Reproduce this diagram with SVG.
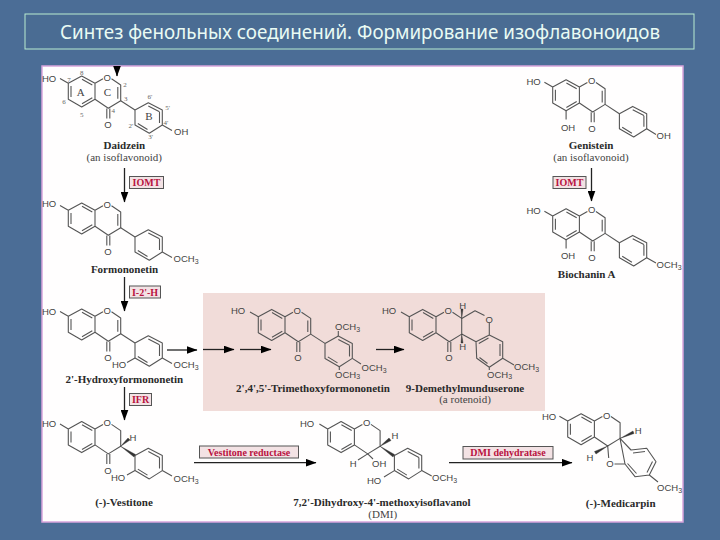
<svg xmlns="http://www.w3.org/2000/svg" width="720" height="540" viewBox="0 0 720 540">
<style>
.b{fill:none;stroke:#555;stroke-width:1.1;stroke-linejoin:round}
.w{fill:#333;stroke:#333;stroke-width:.4}
.a{font:9.5px "Liberation Sans",Arial,sans-serif;fill:#444}
.n{font:bold 11px "Liberation Serif",serif;fill:#2a2a2a;text-anchor:middle}
.r{font:11px "Liberation Serif",serif;fill:#444;text-anchor:middle}
.l{font:7px "Liberation Serif",serif;fill:#666;text-anchor:middle}
.m{text-anchor:middle}
.e{font:bold 10px "Liberation Serif",serif;fill:#b8123f;text-anchor:middle}
.x{fill:#f3e2e4;stroke:#555;stroke-width:1}
.c{fill:none;stroke:#222;stroke-width:1.3;marker-end:url(#ah)}
.s{font-size:7px}
</style>
<defs>
<marker id="ah" markerWidth="11" markerHeight="8" refX="10.5" refY="4" orient="auto" markerUnits="userSpaceOnUse"><path d="M0,0L11,4L0,8Z" fill="#000" stroke="none"/></marker>
<g id="chroman"><path class="b" d="M60,78.5L68.3,83.3L81.7,76L95,83.3V99.3L81.7,107L68.3,99.3V83.3M71,86V97M82,79.2L92.3,85M92.3,97.8L82,103.8M95,83.3L103,78.8M111.5,78.8L120.7,85V100.7L108.3,108.3L95,99.3"/></g>
<g id="chromanone"><use href="#chroman"/><path class="b" d="M106.8,108.5V118.5M109.8,108.5V118.5"/></g>
<g id="chromone"><use href="#chromanone"/><path class="b" d="M117.8,87V98.7"/></g>
<g id="ringB"><path class="b" d="M135,110L148.3,102.7L162.3,110V125L149.3,133.3L135,125ZM148.3,106L159.5,111.8M159.5,112V123M147.5,129.5L137.8,123.5"/></g>
<g id="iso"><use href="#chromone"/><use href="#ringB"/><path class="b" d="M120.7,100.7L135,110"/></g>
</defs>
<rect width="720" height="540" fill="#4b6d96"/>
<g id="title">
<rect x="25" y="14" width="669" height="35" fill="#4a6c93" stroke="#b9ecd0" stroke-width="1"/>
<text x="360" y="39" text-anchor="middle" textLength="600" lengthAdjust="spacingAndGlyphs" style="font:19px 'Noto Sans',sans-serif" fill="#e9fbf4">Синтез фенольных соединений. Формирование изофлавоноидов</text>
</g>
<rect id="panel" x="42" y="66" width="641" height="456" fill="#fffefe" stroke="#d8a4dc" stroke-width="1.5"/>
<rect id="highlight" x="203" y="293" width="342" height="118" fill="#f1dcd9"/>

<g id="daidzein">
<use href="#iso"/>
<path class="b" d="M162.3,125L172,130.5"/>
<text class="a" x="42" y="81.5">HO</text><text class="a m" x="107.3" y="80.5">O</text><text class="a m" x="108" y="127.5">O</text><text class="a" x="174" y="135">OH</text>
<text class="l" x="81.7" y="75">8</text><text class="l" x="69" y="82">7</text><text class="l" x="64" y="104">6</text><text class="l" x="81.7" y="117">5</text><text class="l" x="125" y="87">2</text><text class="l" x="125.7" y="101">3</text><text class="l" x="113.3" y="113">4</text>
<text class="l" x="150" y="99">6'</text><text class="l" x="167.7" y="110">5'</text><text class="l" x="166" y="125">4'</text><text class="l" x="150.7" y="139">3'</text><text class="l" x="131" y="128">2'</text>
<text class="r" x="80.7" y="96">A</text><text class="r" x="107.3" y="96">C</text><text class="r" x="149" y="120">B</text>
<text class="n" x="124.3" y="149">Daidzein</text><text class="r" x="124.3" y="161">(an isoflavonoid)</text>
</g>
<g id="formononetin">
<use href="#iso" y="127"/><path class="b" d="M162.3,252L172,257.5"/>
<text class="a" x="42" y="207">HO</text><text class="a m" x="107.3" y="207.5">O</text><text class="a m" x="108" y="254.5">O</text><text class="a" x="173.5" y="262">OCH<tspan class="s" dy="2">3</tspan></text>
<text class="n" x="124.5" y="272.5">Formononetin</text>
</g>
<g id="hydroxyformononetin">
<use href="#iso" y="233"/><path class="b" d="M162.3,358L172,363.5M135,358L127,362.5"/>
<text class="a" x="42" y="315">HO</text><text class="a m" x="107.3" y="313.5">O</text><text class="a m" x="108" y="360.5">O</text><text class="a" x="112" y="368">HO</text><text class="a" x="173.5" y="368">OCH<tspan class="s" dy="2">3</tspan></text>
<text class="n" x="124.3" y="382.5">2'-Hydroxyformononetin</text>
</g>
<g id="vestitone">
<use href="#chromanone" y="345.6"/><use href="#ringB" y="345.6"/>
<polygon class="w" points="120.7,446.3 135.5,454.5 134,457"/><polygon class="w" points="120.7,446.3 128,438 130,440"/>
<path class="b" d="M162.3,470.6L172,476M135,470.6L127,475"/>
<text class="a" x="42" y="427">HO</text><text class="a m" x="107.3" y="426">O</text><text class="a m" x="108" y="473.5">O</text><text class="a m" x="133" y="441">H</text><text class="a" x="111" y="481">HO</text><text class="a" x="173.5" y="482">OCH<tspan class="s" dy="2">3</tspan></text>
<text class="n" x="124" y="506">(-)-Vestitone</text>
</g>
<g id="trimethoxyformononetin">
<use href="#iso" x="190" y="233.4"/><path class="b" d="M338.3,336V331M352.3,358.4L361,364M339.3,366.7V370"/>
<text class="a" x="231" y="314">HO</text><text class="a m" x="297.3" y="314">O</text><text class="a m" x="298" y="360.5">O</text>
<text class="a" x="335" y="329.5">OCH<tspan class="s" dy="2">3</tspan></text><text class="a" x="361.5" y="370.5">OCH<tspan class="s" dy="2">3</tspan></text><text class="a" x="335" y="378">OCH<tspan class="s" dy="1">3</tspan></text>
<text class="n" x="313" y="391.5">2',4',5'-Trimethoxyformononetin</text>
</g>
<g id="demethylmunduserone">
<use href="#chromanone" x="341" y="233.4"/>
<path class="b" d="M461.7,318.4L475,310.7L484.5,315.5M489.3,323V335L476,341.7L461.7,334.1M489.3,335L502.7,341.7V358.3L489.3,367.3L476.7,358.3L476,341.7M500,344V356M487.5,363.5L479.5,357.5M478.8,343.5L488.5,338M502.7,358.3L514,365M489.3,367.3V370"/>
<polygon class="w" points="461.7,318.4 461,309 463,309"/><polygon class="w" points="461.7,334.1 461,343 463,343"/>
<text class="a" x="382" y="314">HO</text><text class="a m" x="448.3" y="314">O</text><text class="a m" x="489.3" y="322.5">O</text><text class="a m" x="449" y="360.5">O</text><text class="a m" x="462.7" y="309">H</text><text class="a m" x="462.7" y="350">H</text>
<text class="a" x="514" y="369.5">OCH<tspan class="s" dy="2">3</tspan></text><text class="a" x="487" y="378">OCH<tspan class="s" dy="1">3</tspan></text>
<text class="n" x="465" y="391.5">9-Demethylmunduserone</text><text class="r" x="465" y="403">(a rotenoid)</text>
</g>
<g id="dmi">
<use href="#chroman" x="259.4" y="345.6"/><use href="#ringB" x="259.4" y="345.6"/>
<polygon class="w" points="380.1,446.3 394.5,454.5 393,457"/><polygon class="w" points="380.1,446.3 389,438 391,440.5"/>
<path class="b" d="M367.7,453.9L358,460M367.7,453.9L373,459M394.4,470.6L384,477M421.7,470.6L431.7,476"/>
<text class="a" x="300" y="426.5">HO</text><text class="a m" x="366.7" y="426">O</text><text class="a m" x="395" y="438.5">H</text><text class="a m" x="353.3" y="467">H</text><text class="a" x="372" y="467">OH</text><text class="a" x="367" y="483.5">HO</text><text class="a" x="432" y="480.5">OCH<tspan class="s" dy="2">3</tspan></text>
<text class="n" x="382" y="506">7,2'-Dihydroxy-4'-methoxyisoflavanol</text><text class="r" x="382.7" y="518">(DMI)</text>
</g>
<g id="medicarpin">
<use href="#chroman" x="499.4" y="337.7"/>
<path class="b" d="M620,438.4L631,450L646.7,448.3L656,461.7L649.3,475L635,476.7L625,464ZM633,453L645,451.5M652.5,461.5L647,472.5M636.5,473.5L627.5,463.5M607.7,446L608.7,458M614.5,464L625,464M649.3,475L658,482"/>
<polygon class="w" points="620.1,438.4 633,431 634,433.5"/><polygon class="w" points="607.7,446 594.5,451.5 596,454"/>
<text class="a" x="542" y="419.5">HO</text><text class="a m" x="606.7" y="418.5">O</text><text class="a m" x="610" y="466.5">O</text><text class="a m" x="638.3" y="433.5">H</text><text class="a m" x="590" y="460.5">H</text><text class="a" x="657" y="490.5">OCH<tspan class="s" dy="2">3</tspan></text>
<text class="n" x="620.7" y="506.5">(-)-Medicarpin</text>
</g>
<g id="genistein">
<use href="#iso" x="484.4" y="3.7"/><path class="b" d="M566.1,110.7V119.5M646.7,128.7L656,134.5"/>
<text class="a" x="526.5" y="85">HO</text><text class="a m" x="591.7" y="84">O</text><text class="a m" x="592" y="131.5">O</text><text class="a m" x="568" y="130.5">OH</text><text class="a" x="656.5" y="138.5">OH</text>
<text class="n" x="591" y="148.5">Genistein</text><text class="r" x="591" y="160.5">(an isoflavonoid)</text>
</g>
<g id="biochanin">
<use href="#iso" x="484.4" y="132.7"/><path class="b" d="M566.1,239.7V248.5M646.7,257.7L656,263"/>
<text class="a" x="526.5" y="213.5">HO</text><text class="a m" x="591.7" y="213">O</text><text class="a m" x="592" y="260.5">O</text><text class="a m" x="568" y="258.5">OH</text><text class="a" x="656.5" y="267.5">OCH<tspan class="s" dy="2">3</tspan></text>
<text class="n" x="586.7" y="277.5">Biochanin A</text>
</g>

<g id="connectors">
<path class="c" d="M117,66V76"/>
<path class="c" d="M124.5,168V202"/>
<path class="c" d="M124.5,277V311"/>
<path class="c" d="M124.5,387V420"/>
<path class="c" d="M591.5,168V201"/>
<path class="c" d="M167,350H197"/>
<path class="c" d="M203,349.5H234"/>
<path class="c" d="M240,349.5H271"/>
<path class="c" d="M376,349.5H404"/>
<path class="c" d="M194,462.7H316"/>
<path class="c" d="M449,462.7H572"/>
</g>
<g id="labels">
<rect class="x" x="129.5" y="176.5" width="34" height="12"/><text class="e" x="146.5" y="186">IOMT</text>
<rect class="x" x="129.5" y="286" width="31" height="12"/><text class="e" x="145" y="295.5">I-2'-H</text>
<rect class="x" x="129.5" y="393.5" width="22" height="12"/><text class="e" x="140.5" y="403">IFR</text>
<rect class="x" x="553" y="176.5" width="33" height="12"/><text class="e" x="569.5" y="186">IOMT</text>
<rect class="x" x="199.5" y="446" width="99" height="12"/><text class="e" x="249" y="455.5">Vestitone reductase</text>
<rect class="x" x="463" y="446.5" width="90" height="12.5"/><text class="e" x="508" y="456">DMI dehydratase</text>
</g>
</svg>
